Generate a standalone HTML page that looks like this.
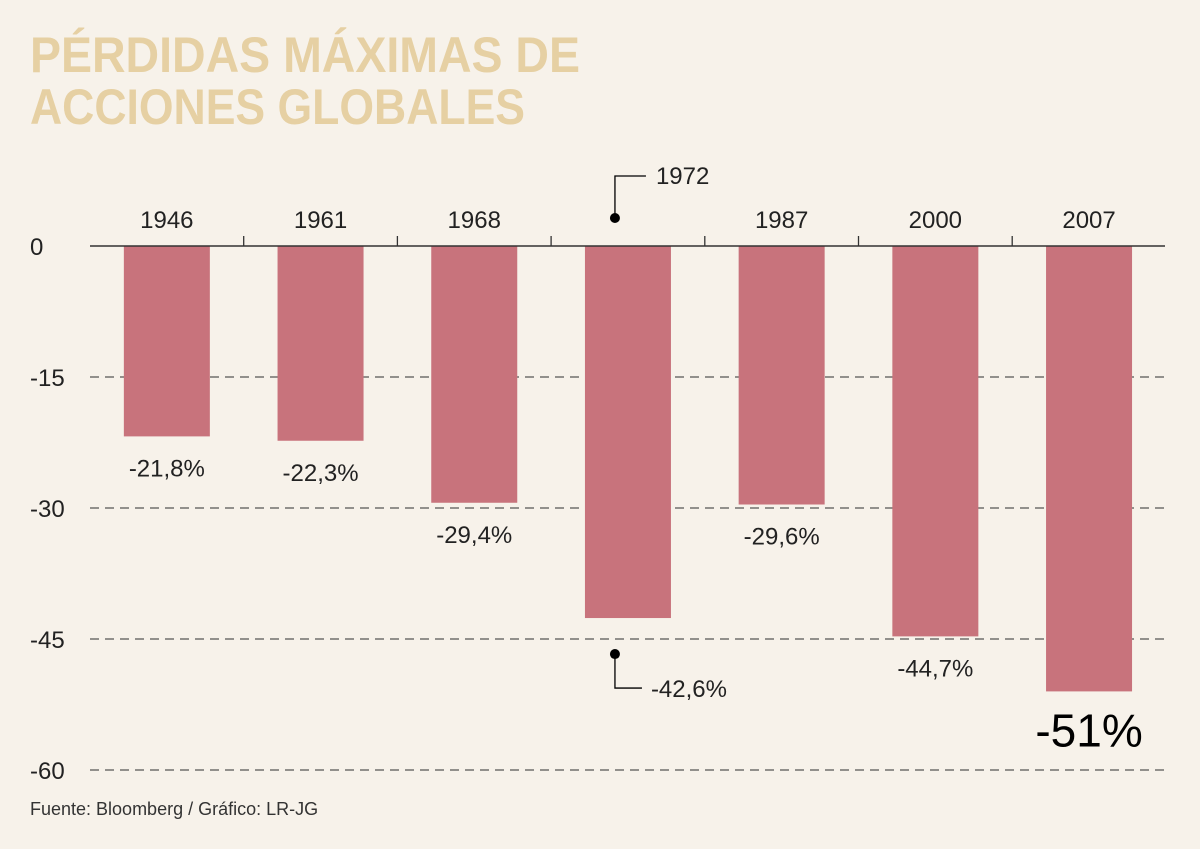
<!DOCTYPE html>
<html><head><meta charset="utf-8"><style>
body{margin:0;background:#f7f2ea;}
svg{display:block;font-family:"Liberation Sans",sans-serif;}
</style></head><body>
<svg id="c" width="1200" height="849">
<rect width="1200" height="849" fill="#f7f2ea"/>
<text x="30" y="72" font-size="50" font-weight="bold" fill="#e6d0a3" textLength="550" lengthAdjust="spacingAndGlyphs">PÉRDIDAS MÁXIMAS DE</text>
<text x="30" y="124" font-size="50" font-weight="bold" fill="#e6d0a3" textLength="495" lengthAdjust="spacingAndGlyphs">ACCIONES GLOBALES</text>
<text x="30" y="815" font-size="18" fill="#333">Fuente: Bloomberg / Gráfico: LR-JG</text>
<g id="g"></g>
</svg>
<script>
const categories=["1946","1961","1968","1972","1987","2000","2007"];
const values=[-21.8,-22.3,-29.4,-42.6,-29.6,-44.7,-51];
const valueLabels=["-21,8%","-22,3%","-29,4%","-42,6%","-29,6%","-44,7%","-51%"];
const yTicks=[0,-15,-30,-45,-60];
const NS="http://www.w3.org/2000/svg";
const g=document.getElementById('g');
const y=v=>246+(-v)*(524/60);
const x0=90,step=153.7,bw=86;
const cx=i=>x0+step*(i+0.5);
function mk(t,a,txt){const e=document.createElementNS(NS,t);for(const k in a)e.setAttribute(k,a[k]);if(txt!==undefined)e.textContent=txt;g.appendChild(e);return e;}
yTicks.forEach(t=>{
 if(t!==0){const l=mk('line',{x1:90,x2:1165,y1:y(t),y2:y(t),stroke:'#555','stroke-width':1.3,'stroke-dasharray':'9,6'});
 
 }
 const tx=mk('text',{x:30,y:y(t)+9,'font-size':24,fill:'#222'},String(t));
 
 
});
categories.forEach((c,i)=>{
 const b=mk('rect',{x:cx(i)-bw/2,y:y(0),width:bw,height:y(values[i])-y(0),fill:'#c8737c'});
 
 
 if(i<categories.length-1){const tk=mk('line',{x1:x0+step*(i+1),x2:x0+step*(i+1),y1:236,y2:246,stroke:'#333','stroke-width':1.3});
 
 }
 if(c==="1972"){
  mk('circle',{cx:cx(i)-13,cy:218,r:5,fill:'#000'});
  mk('polyline',{points:`${cx(i)-13},218 ${cx(i)-13},176 ${cx(i)+18},176`,fill:'none',stroke:'#000','stroke-width':1.3});
  const t=mk('text',{x:cx(i)+28,y:184,'font-size':24,fill:'#222'},c);
  
  
  const yb=y(values[i])+36;
  mk('circle',{cx:cx(i)-13,cy:yb,r:5,fill:'#000'});
  mk('polyline',{points:`${cx(i)-13},${yb} ${cx(i)-13},${yb+34} ${cx(i)+14},${yb+34}`,fill:'none',stroke:'#000','stroke-width':1.3});
  const v=mk('text',{x:cx(i)+23,y:yb+43,'font-size':24,fill:'#222'},valueLabels[i]);
  
  
 } else {
  const t=mk('text',{x:cx(i),y:228,'font-size':24,fill:'#222','text-anchor':'middle'},c);
  
  
  const big=i===categories.length-1;
  const v=mk('text',{x:cx(i),y:y(values[i])+(big?55:40),'font-size':big?46:24,fill:big?'#000':'#222','text-anchor':'middle'},valueLabels[i]);
  
  
 }
});
const ax=mk('line',{x1:90,x2:1165,y1:246,y2:246,stroke:'#333','stroke-width':1.5});


</script>
</body></html>
